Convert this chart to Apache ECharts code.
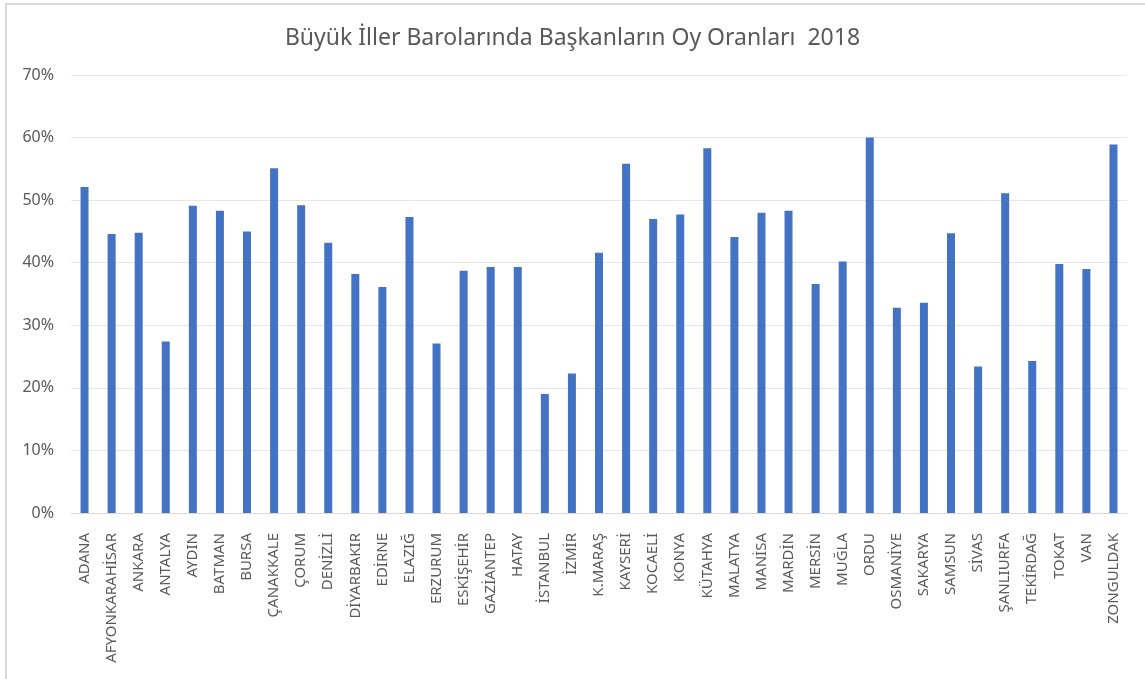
<!DOCTYPE html>
<html>
<head>
<meta charset="utf-8">
<script src="https://cdn.jsdelivr.net/npm/echarts@6/dist/echarts.min.js"></script>
<style>
  html, body { margin: 0; padding: 0; background: #fff; }
  #chart { width: 1145px; height: 679px; }
  .frame {
    position: absolute; left: 5px; top: 3px; width: 1150px; height: 674px;
    border: 2px solid #d9d9d9; pointer-events: none;
  }
</style>
</head>
<body>
<div id="chart"></div>
<div class="frame"></div>
<script>
const cities = [
  "ADANA", "AFYONKARAHİSAR", "ANKARA", "ANTALYA", "AYDIN", "BATMAN", "BURSA",
  "ÇANAKKALE", "ÇORUM", "DENİZLİ", "DİYARBAKIR", "EDİRNE", "ELAZIĞ", "ERZURUM",
  "ESKİŞEHİR", "GAZİANTEP", "HATAY", "İSTANBUL", "İZMİR", "K.MARAŞ", "KAYSERİ",
  "KOCAELİ", "KONYA", "KÜTAHYA", "MALATYA", "MANİSA", "MARDİN", "MERSİN",
  "MUĞLA", "ORDU", "OSMANİYE", "SAKARYA", "SAMSUN", "SİVAS", "ŞANLIURFA",
  "TEKİRDAĞ", "TOKAT", "VAN", "ZONGULDAK"
];
// oy oranı, yüzde
const voteShare = [
  52.1, 44.6, 44.8, 27.4, 49.1, 48.3, 45.0,
  55.1, 49.2, 43.2, 38.2, 36.1, 47.3, 27.1,
  38.7, 39.3, 39.3, 19.0, 22.3, 41.6, 55.8,
  47.0, 47.7, 58.3, 44.1, 48.0, 48.3, 36.6,
  40.2, 60.0, 32.8, 33.6, 44.7, 23.4, 51.1,
  24.3, 39.8, 39.0, 58.9
];
const yTicks = [0, 10, 20, 30, 40, 50, 60, 70];

let my_chart = echarts.init(document.getElementById("chart"));
my_chart.setOption({
  animation: false,
  textStyle: { fontFamily: "Noto Sans" },
  title: {
    text: "Büyük İller Barolarında Başkanların Oy Oranları  2018",
    left: "center",
    top: 22,
    textStyle: { color: "#595959", fontSize: 23, fontWeight: "normal" },
  },
  grid: { left: 71, right: 18, top: 75, bottom: 166 },
  xAxis: {
    type: "category",
    data: cities,
    axisLine: { lineStyle: { color: "#d9d9d9" } },
    axisTick: { show: false },
    axisLabel: {
      interval: 0,
      rotate: 90,
      margin: 20,
      color: "#595959",
      fontSize: 15,
    },
  },
  yAxis: {
    type: "value",
    min: yTicks[0],
    max: yTicks[yTicks.length - 1],
    interval: 10,
    axisLine: { show: false },
    axisTick: { show: false },
    splitLine: { lineStyle: { color: "#e6e6e6" } },
    axisLabel: { formatter: "{value}%", color: "#595959", fontSize: 16, margin: 17 },
  },
  series: [
    {
      type: "bar",
      data: voteShare,
      barWidth: 8,
      itemStyle: { color: "#4472c4" },
    },
  ],
});
</script>
</body>
</html>
